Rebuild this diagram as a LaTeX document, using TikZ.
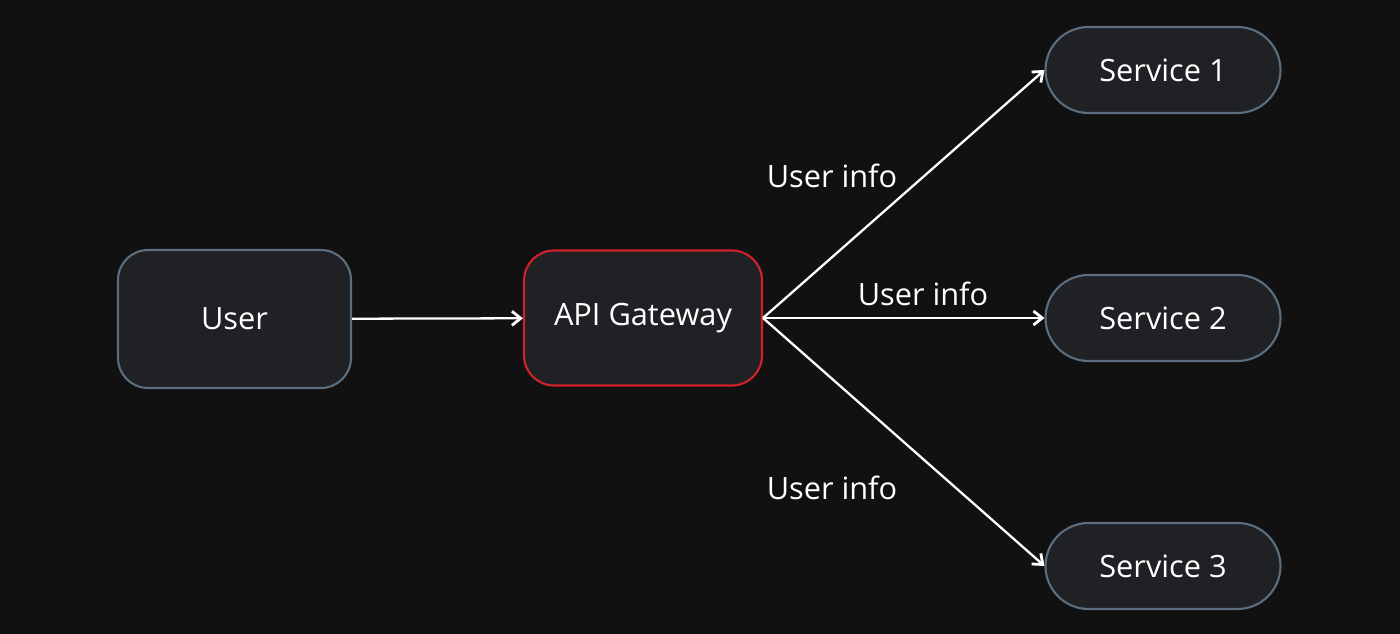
\documentclass[tikz,border=0pt]{standalone}
\usepackage{fontspec}
\setmainfont{Open Sans}
\usetikzlibrary{arrows.meta,positioning}
\definecolor{bgdark}{HTML}{111111}
\definecolor{boxfill}{HTML}{1F2124}
\definecolor{boxline}{HTML}{5A6E80}
\definecolor{gwline}{HTML}{D0222B}
\begin{document}
\begin{tikzpicture}[
    x=0.02cm, y=-0.02cm,
    box/.style={rectangle, rounded corners=0.6cm, draw=boxline, fill=boxfill, line width=1.2pt,
        text=white, font=\fontsize{17.5}{21}\selectfont, minimum width=4.66cm, minimum height=2.76cm},
    service/.style={box, rounded corners=0.86cm, minimum width=4.7cm, minimum height=1.72cm},
    arrow/.style={-{Straight Barb[length=5pt,width=8pt,line width=1.6pt]}, white, line width=1.3pt},
    info/.style={text=white, font=\fontsize{17.5}{21}\selectfont}
]
    % background
    \fill[bgdark] (0,0) rectangle (1400,634);
    \useasboundingbox (0,0) rectangle (1400,634);

    % nodes
    \node[box] (user) at (234.5,319) {User};
    \node[box, draw=gwline, minimum width=4.76cm, minimum height=2.7cm] (gateway) at (643,318) {API Gateway};
    \node[service] (svc1) at (1163,70) {Service 1};
    \node[service] (svc2) at (1163,318) {Service 2};
    \node[service] (svc3) at (1163,566) {Service 3};

    % arrows
    \draw[arrow] (user) -- (gateway);
    \draw[arrow] (gateway.east) -- (svc1.west);
    \draw[arrow] (gateway.east) -- (svc2.west);
    \draw[arrow] (gateway.east) -- (svc3.west);

    % labels
    \node[info] (info1) at (832,176) {User info};
    \node[info] (info2) at (923,294) {User info};
    \node[info] (info3) at (832,488) {User info};
\end{tikzpicture}
\end{document}
